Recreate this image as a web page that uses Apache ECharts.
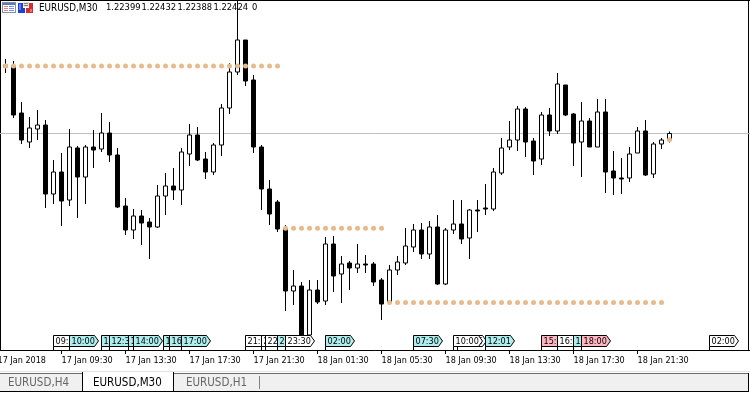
<!DOCTYPE html>
<html>
<head>
<meta charset="utf-8">
<title>EURUSD,M30</title>
<style>
  html, body { margin: 0; padding: 0; background: #fff; }
  #chart { width: 750px; height: 393px; }
</style>
<script src="https://cdn.jsdelivr.net/npm/echarts@6/dist/echarts.min.js"></script>
</head>
<body>
<div id="chart"></div>
<script>
// M30 bars, left to right. Prices.
const opens = [
  1.22690, 1.22694, 1.22506, 1.22390, 1.22442, 1.22458, 1.22182, 1.22270, 1.22158, 1.22366,
  1.22250, 1.22370, 1.22362, 1.22426, 1.22338, 1.22134, 1.22038, 1.22094, 1.22070, 1.22050,
  1.22174, 1.22214, 1.22198, 1.22342, 1.22418, 1.22322, 1.22270, 1.22378, 1.22526, 1.22670,
  1.22798, 1.22638, 1.22370, 1.22202, 1.22150, 1.22042, 1.21794, 1.21814, 1.21618, 1.21798,
  1.21754, 1.21982, 1.21862, 1.21906, 1.21886, 1.21902, 1.21902, 1.21838, 1.21750, 1.21878,
  1.21906, 1.21970, 1.22038, 1.21942, 1.22050, 1.21822, 1.22038, 1.22062, 1.22006, 1.22118,
  1.22126, 1.22122, 1.22266, 1.22370, 1.22398, 1.22522, 1.22394, 1.22322, 1.22498, 1.22434,
  1.22618, 1.22502, 1.22390, 1.22474, 1.22370, 1.22510, 1.22274, 1.22246, 1.22246, 1.22346,
  1.22434, 1.22262, 1.22382, 1.22399
];
const highs = [
  1.22722, 1.22714, 1.22550, 1.22490, 1.22518, 1.22478, 1.22318, 1.22346, 1.22442, 1.22374,
  1.22378, 1.22438, 1.22506, 1.22470, 1.22366, 1.22166, 1.22122, 1.22118, 1.22086, 1.22218,
  1.22266, 1.22286, 1.22366, 1.22462, 1.22450, 1.22350, 1.22386, 1.22542, 1.22706, 1.22954,
  1.22798, 1.22658, 1.22378, 1.22238, 1.22158, 1.22058, 1.21878, 1.21830, 1.21838, 1.21838,
  1.22010, 1.22014, 1.21934, 1.21914, 1.21982, 1.21938, 1.21910, 1.21846, 1.21898, 1.21934,
  1.22046, 1.22062, 1.22066, 1.22074, 1.22098, 1.22046, 1.22158, 1.22158, 1.22122, 1.22158,
  1.22222, 1.22286, 1.22406, 1.22474, 1.22534, 1.22530, 1.22406, 1.22510, 1.22526, 1.22666,
  1.22618, 1.22506, 1.22550, 1.22486, 1.22562, 1.22562, 1.22354, 1.22326, 1.22370, 1.22450,
  1.22478, 1.22390, 1.22406, 1.22432
];
const lows = [
  1.22666, 1.22486, 1.22382, 1.22366, 1.22398, 1.22126, 1.22142, 1.22054, 1.22134, 1.22086,
  1.22142, 1.22286, 1.22350, 1.22310, 1.22126, 1.22018, 1.22002, 1.21978, 1.21922, 1.22046,
  1.22098, 1.22158, 1.22138, 1.22294, 1.22314, 1.22242, 1.22258, 1.22334, 1.22502, 1.22658,
  1.22614, 1.22346, 1.22118, 1.22058, 1.22030, 1.21714, 1.21738, 1.21614, 1.21594, 1.21742,
  1.21738, 1.21790, 1.21746, 1.21798, 1.21866, 1.21866, 1.21814, 1.21678, 1.21742, 1.21858,
  1.21898, 1.21950, 1.21922, 1.21922, 1.21818, 1.21818, 1.22022, 1.21982, 1.21922, 1.22030,
  1.22098, 1.22114, 1.22258, 1.22358, 1.22354, 1.22330, 1.22258, 1.22298, 1.22414, 1.22422,
  1.22494, 1.22294, 1.22250, 1.22370, 1.22370, 1.22186, 1.22178, 1.22182, 1.22230, 1.22346,
  1.22254, 1.22246, 1.22362, 1.22388
];
const closes = [
  1.22698, 1.22498, 1.22398, 1.22446, 1.22458, 1.22182, 1.22270, 1.22154, 1.22370, 1.22250,
  1.22370, 1.22358, 1.22426, 1.22338, 1.22130, 1.22038, 1.22094, 1.22066, 1.22050, 1.22174,
  1.22214, 1.22198, 1.22350, 1.22418, 1.22318, 1.22270, 1.22378, 1.22526, 1.22670, 1.22798,
  1.22634, 1.22370, 1.22202, 1.22102, 1.22042, 1.21794, 1.21814, 1.21618, 1.21798, 1.21750,
  1.21982, 1.21854, 1.21902, 1.21886, 1.21902, 1.21898, 1.21830, 1.21742, 1.21878, 1.21910,
  1.21974, 1.22038, 1.21942, 1.22050, 1.21822, 1.22038, 1.22062, 1.22002, 1.22118, 1.22114,
  1.22122, 1.22270, 1.22366, 1.22398, 1.22522, 1.22390, 1.22314, 1.22498, 1.22434, 1.22622,
  1.22498, 1.22386, 1.22474, 1.22370, 1.22510, 1.22270, 1.22246, 1.22242, 1.22342, 1.22434,
  1.22258, 1.22382, 1.22398, 1.22424
];

// indicator dots, one per bar
const dotLevels = [
  1.22694, 1.22694, 1.22694, 1.22694, 1.22694, 1.22694, 1.22694, 1.22694, 1.22694, 1.22694,
  1.22694, 1.22694, 1.22694, 1.22694, 1.22694, 1.22694, 1.22694, 1.22694, 1.22694, 1.22694,
  1.22694, 1.22694, 1.22694, 1.22694, 1.22694, 1.22694, 1.22694, 1.22694, 1.22694, 1.22694,
  1.22694, 1.22694, 1.22694, 1.22694, 1.22694,
  1.22045, 1.22045, 1.22045, 1.22045, 1.22045, 1.22045, 1.22045, 1.22045, 1.22045, 1.22045,
  1.22045, 1.22045, 1.22045,
  1.21748, 1.21748, 1.21748, 1.21748, 1.21748, 1.21748, 1.21748, 1.21748, 1.21748, 1.21748,
  1.21748, 1.21748, 1.21748, 1.21748, 1.21748, 1.21748, 1.21748, 1.21748, 1.21748, 1.21748,
  1.21748, 1.21748, 1.21748, 1.21748, 1.21748, 1.21748, 1.21748, 1.21748, 1.21748, 1.21748,
  1.21748, 1.21748, 1.21748, 1.21748, 1.21748,
  1.22399
];

// time axis: bar number of each tick and its label
const tickBars = [-1, 7, 15, 23, 31, 39, 47, 55, 63, 71, 79];
const tickLabels = [
  '17 Jan 2018', '17 Jan 09:30', '17 Jan 13:30', '17 Jan 17:30', '17 Jan 21:30', '18 Jan 01:30',
  '18 Jan 05:30', '18 Jan 09:30', '18 Jan 13:30', '18 Jan 17:30', '18 Jan 21:30'
];

// event flags along the bottom, drawn in this order so later ones cover earlier ones
const eventBars = [6, 8, 12, 13, 15.4, 16, 19.75, 20.5, 22, 30, 32, 32.5, 34, 35, 40, 51, 56.5, 56, 60, 67, 69, 71, 72, 88];
const eventTimes = [
  '09:00', '10:00', '12:00', '12:30', '13:45', '14:00', '15:50', '16:15', '17:00', '21:00', '22:00', '22:15',
  '23:00', '23:30', '02:00', '07:30', '10:15', '10:00', '12:01', '15:30', '16:30', '17:30', '18:00', '02:00'
];
const eventKinds = ['w', 'b', 'b', 'b', 'b', 'b', 'b', 'b', 'b', 'w', 'w', 'w', 'b', 'w', 'b', 'b', 'w', 'w', 'b', 'p', 'w', 'b', 'p', 'w'];
const kindColors = { w: '#ffffff', b: '#afeeee', p: '#ffb6c1' };

const FONT = '"DejaVu Sans Condensed", "Liberation Sans", sans-serif';
const DOT_COLOR = '#e5bc8c';

const candleData = opens.map((o, i) => [i, o, closes[i], lows[i], highs[i]]);
const dotData = dotLevels.map((v, i) => [i, v]);
const eventData = eventBars.map((b, i) => [b, i]);
const lastClose = closes[closes.length - 1];

// flag with a leg down to the time axis
function renderFlag(params, api) {
  const idx = api.value(1);
  const x = Math.floor(api.coord([api.value(0), 0])[0]) + 0.5;
  const axisY = params.coordSys.y + params.coordSys.height;
  const top = axisY - 14.5;
  const bottom = axisY - 3.5;
  return {
    type: 'group',
    children: [
      {
        type: 'polygon',
        shape: { points: [[x, top], [x + 25, top], [x + 29, (top + bottom) / 2], [x + 25, bottom], [x, bottom]] },
        style: { fill: kindColors[eventKinds[idx]], stroke: '#000', lineWidth: 1 }
      },
      {
        type: 'line',
        shape: { x1: x, y1: bottom, x2: x, y2: axisY },
        style: { stroke: '#000', lineWidth: 1 }
      },
      {
        type: 'text',
        style: {
          x: x + 2, y: (top + bottom) / 2 + 0.5,
          text: eventTimes[idx],
          font: '9px ' + FONT,
          fill: '#000',
          verticalAlign: 'middle'
        }
      }
    ]
  };
}

function box(x, y, w, h, fill) {
  return { type: 'rect', silent: true, shape: { x: x, y: y, width: w, height: h }, style: { fill: fill } };
}
function label(x, y, text, fill, size) {
  return {
    type: 'text', silent: true, x: x, y: y,
    style: { text: text, fill: fill, font: size + 'px ' + FONT, verticalAlign: 'middle' }
  };
}

const chart = echarts.init(document.getElementById('chart'));

chart.setOption({
  animation: false,
  backgroundColor: '#ffffff',
  grid: { left: -2.5, right: 0, top: 1, bottom: 43, containLabel: false, outerBoundsMode: 'none' },
  xAxis: {
    type: 'value',
    min: -1,
    max: 93.0625,
    splitLine: { show: false },
    axisLine: { show: true, onZero: false, lineStyle: { color: '#000', width: 1 } },
    axisTick: { show: true, length: 4, customValues: tickBars, lineStyle: { color: '#000' } },
    axisLabel: {
      customValues: tickBars,
      formatter: v => tickLabels[tickBars.indexOf(v)],
      align: 'left',
      margin: 6,
      color: '#000',
      fontFamily: FONT,
      fontSize: 9,
      hideOverlap: false
    }
  },
  yAxis: {
    type: 'value',
    min: 1.21558,
    max: 1.22954,
    show: false,
    splitLine: { show: false }
  },
  series: [
    {
      type: 'line',
      z: 1,
      symbol: 'none',
      silent: true,
      lineStyle: { color: '#c0c0c0', width: 1 },
      data: [[-1, lastClose], [93.0625, lastClose]]
    },
    {
      type: 'candlestick',
      z: 2,
      barWidth: 4,
      encode: { x: 0, y: [1, 2, 3, 4] },
      itemStyle: {
        color: '#ffffff',
        color0: '#000000',
        borderColor: '#000000',
        borderColor0: '#000000',
        borderWidth: 1
      },
      data: candleData
    },
    {
      type: 'scatter',
      z: 3,
      symbol: 'circle',
      symbolSize: 5,
      itemStyle: { color: DOT_COLOR, opacity: 1 },
      data: dotData
    },
    {
      type: 'custom',
      z: 4,
      clip: false,
      renderItem: renderFlag,
      encode: { x: 0 },
      data: eventData
    }
  ],
  graphic: [
    // window frame and tab strip
    box(0, 0, 750, 1, '#000'),
    box(0, 0, 1, 351, '#000'),
    box(748, 0, 1, 351, '#000'),
    box(0, 371, 750, 1, '#e3e3e3'),
    box(0, 373, 749, 19, '#f0f0f0'),
    box(0, 373, 749, 1, '#6a6a6a'),
    box(0, 391, 749, 1, '#000'),
    box(748, 373, 1, 19, '#000'),
    box(82, 372, 92, 20, '#000'),
    box(83, 372, 90, 19, '#ffffff'),
    box(259, 376, 1, 13, '#808080'),
    label(8, 383, 'EURUSD,H4', '#666666', 11.5),
    label(93, 383, 'EURUSD,M30', '#000000', 11.5),
    label(186, 383, 'EURUSD,H1', '#666666', 11.5),

    // header icons
    box(2, 2, 14, 11, '#8c8ca0'),
    box(3, 3, 12, 9, '#ffffff'),
    box(3, 3, 12, 2, '#5a78c8'),
    box(4, 6, 4, 1, '#e08080'),
    box(4, 8, 4, 1, '#e08080'),
    box(4, 10, 4, 1, '#e08080'),
    box(9, 6, 5, 1, '#8090e0'),
    box(9, 8, 5, 1, '#8090e0'),
    box(9, 10, 5, 1, '#8090e0'),
    box(18, 3, 5, 10, '#2040d0'),
    box(18, 8, 7, 5, '#2040d0'),
    box(19, 4, 2, 6, '#6080f0'),
    box(29, 3, 4, 10, '#d03030'),
    box(26, 8, 7, 5, '#d03030'),
    box(30, 9, 2, 3, '#f07070'),
    box(23, 2, 6, 5, '#e4e4e4'),
    box(24, 3, 4, 1, '#808080'),
    box(24, 5, 4, 1, '#808080'),

    // header text
    label(39, 8, 'EURUSD,M30', '#000', 9.8),
    label(106, 8, '1.22399', '#000', 9.3),
    label(141.5, 8, '1.22432', '#000', 9.3),
    label(177.5, 8, '1.22388', '#000', 9.3),
    label(213.5, 8, '1.22424', '#000', 9.3),
    label(252, 8, '0', '#000', 9.3)
  ]
});
</script>
</body>
</html>
